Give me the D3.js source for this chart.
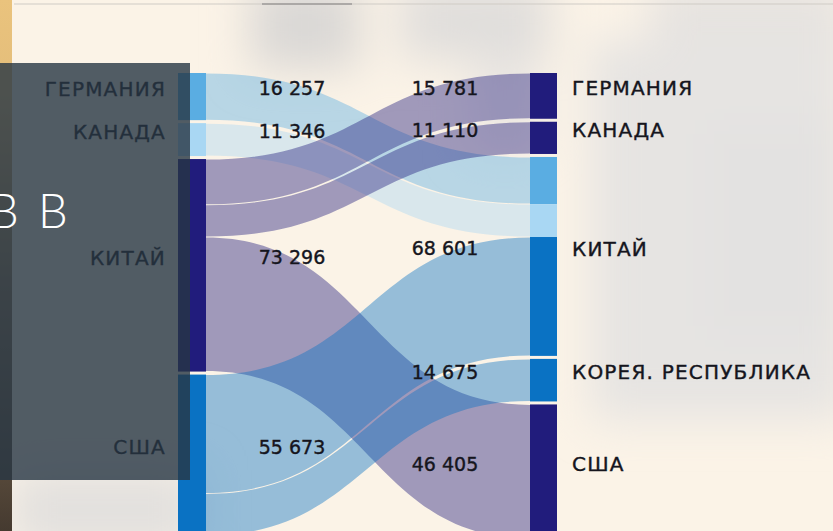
<!DOCTYPE html>
<html>
<head>
<meta charset="utf-8">
<script src="https://cdn.jsdelivr.net/npm/d3@7"></script>
<style>
  html, body { margin: 0; padding: 0; background: #fbf3e7; }
  svg { display: block; }
  .lbl { font-family: "DejaVu Sans", sans-serif; fill: #15151d; stroke: #15151d; stroke-width: 0.4px; }
</style>
</head>
<body>
<svg id="chart" width="833" height="531"></svg>
<script>
// * nodes on the left (exporters) and right (importers)
const sources = ["ГЕРМАНИЯ", "КАНАДА", "КИТАЙ", "США"];
const sourceValues = [16257, 11346, 73296, 55673];
const sourceColors = ["#5aade2", "#a9d7f3", "#211c7c", "#0a72c3"];

const targets = ["ГЕРМАНИЯ", "КАНАДА", "КИТАЙ", "КОРЕЯ. РЕСПУБЛИКА", "США"];
const targetValues = [15781, 11110, 68601, 14675, 46405];

// * flows: source index -> target index
const flowFrom = [0, 1, 2, 2, 2, 3, 3];
const flowTo = [2, 2, 0, 1, 4, 2, 3];
const flowValues = [16257, 11346, 15781, 11110, 46405, 40998, 14675];

const width = 833;
const height = 531;
const margin = { top: 73 };
const nodeGap = 3;
const leftX = [178, 206];
const rightX = [530, 557];

const svg = d3.select("#chart");
const defs = svg.append("defs");

// * blurred photo-like background
defs.append("filter").attr("id", "blur").attr("x", "-50%").attr("y", "-50%").attr("width", "200%").attr("height", "200%")
  .append("feGaussianBlur").attr("stdDeviation", 22);

const bgLayer = svg.append("g");
bgLayer.append("rect").attr("width", width).attr("height", height).attr("fill", "#fbf3e7");
const blobs = bgLayer.append("g").attr("filter", "url(#blur)");
[
  [250, -20, 110, 90, "#dad8d6"],
  [400, -20, 150, 80, "#e0dedc"],
  [650, -20, 200, 70, "#e6e3e0"],
  [590, 40, 260, 380, "#e6e4e2"],
  [700, 120, 150, 220, "#e3e2e1"],
  [10, 470, 190, 80, "#e2e0de"],
  [470, 60, 70, 90, "#ebe7e3"],
].forEach(([x, y, w, h, c]) => {
  blobs.append("rect").attr("x", x).attr("y", y).attr("width", w).attr("height", h).attr("fill", c);
});

// left golden strip of the photo
const stripGrad = defs.append("linearGradient").attr("id", "strip").attr("x1", 0).attr("y1", 0).attr("x2", 0).attr("y2", 1);
stripGrad.append("stop").attr("offset", "0%").attr("stop-color", "#eac37d");
stripGrad.append("stop").attr("offset", "18%").attr("stop-color", "#e3bd7a");
stripGrad.append("stop").attr("offset", "55%").attr("stop-color", "#8c7658");
stripGrad.append("stop").attr("offset", "100%").attr("stop-color", "#453a30");
bgLayer.append("rect").attr("x", 0).attr("y", 0).attr("width", 12).attr("height", height).attr("fill", "url(#strip)");
bgLayer.append("line").attr("x1", 14).attr("x2", width).attr("y1", 4).attr("y2", 4)
  .attr("stroke", "#cfcbc6").attr("stroke-width", 1.2);
bgLayer.append("line").attr("x1", 262).attr("x2", 352).attr("y1", 4).attr("y2", 4)
  .attr("stroke", "#9c9a98").attr("stroke-width", 1.5);

// * value -> pixel scale shared by both columns
const total = d3.sum(sourceValues);
const yScale = d3.scaleLinear().domain([0, total]).range([0, 454]);

const stackNodes = (values) => {
  let y = margin.top;
  return values.map((v) => {
    const node = { y0: y, y1: y + yScale(v), value: v };
    y = node.y1 + nodeGap;
    return node;
  });
};
const leftNodes = stackNodes(sourceValues);
const rightNodes = stackNodes(targetValues);

// * link positions, ordered by target at the source and by source at the target
const links = flowValues.map((v, i) => ({ s: flowFrom[i], t: flowTo[i], value: v, w: yScale(v) }));
const srcOffset = leftNodes.map((n) => n.y0);
[...links].sort((a, b) => a.s - b.s || a.t - b.t).forEach((l) => {
  l.sy0 = srcOffset[l.s];
  srcOffset[l.s] += l.w;
});
const tgtOffset = rightNodes.map((n) => n.y0);
[...links].sort((a, b) => a.t - b.t || a.s - b.s).forEach((l) => {
  l.ty0 = tgtOffset[l.t];
  tgtOffset[l.t] += l.w;
});

// filled band with constant vertical thickness
const band = (l) => {
  const x0 = leftX[1];
  const x1 = rightX[0];
  const xm = (x0 + x1) / 2;
  const s0 = l.sy0 + 0.5;
  const s1 = l.sy0 + l.w - 0.5;
  const t0 = l.ty0 + 0.5;
  const t1 = l.ty0 + l.w - 0.5;
  const p = d3.path();
  p.moveTo(x0, s0);
  p.bezierCurveTo(xm, s0, xm, t0, x1, t0);
  p.lineTo(x1, t1);
  p.bezierCurveTo(xm, t1, xm, s1, x0, s1);
  p.closePath();
  return p.toString();
};

svg.append("g")
  .selectAll("path")
  .data(links)
  .enter()
  .append("path")
  .attr("d", band)
  .style("fill", (l) => sourceColors[l.s])
  .style("fill-opacity", 0.42);

// * left nodes
svg.append("g")
  .selectAll("rect")
  .data(leftNodes)
  .enter()
  .append("rect")
  .attr("x", leftX[0])
  .attr("y", (n) => n.y0)
  .attr("width", leftX[1] - leftX[0])
  .attr("height", (n) => n.y1 - n.y0)
  .style("fill", (n, i) => sourceColors[i]);

// * right nodes: drawn as segments coloured by the incoming source
svg.append("g")
  .selectAll("rect")
  .data(links)
  .enter()
  .append("rect")
  .attr("x", rightX[0])
  .attr("y", (l) => l.ty0)
  .attr("width", rightX[1] - rightX[0])
  .attr("height", (l) => l.w)
  .style("fill", (l) => sourceColors[l.s]);

const labelShift = -8;
const mid = (n) => (n.y0 + n.y1) / 2 + labelShift;

// * node names
svg.append("g")
  .selectAll("text")
  .data(leftNodes)
  .enter()
  .append("text")
  .attr("class", "lbl")
  .attr("x", 166)
  .attr("y", mid)
  .attr("dy", "0.36em")
  .attr("text-anchor", "end")
  .style("font-size", "20px")
  .style("letter-spacing", "1.2px")
  .text((n, i) => sources[i]);

svg.append("g")
  .selectAll("text")
  .data(rightNodes)
  .enter()
  .append("text")
  .attr("class", "lbl")
  .attr("x", 572)
  .attr("y", mid)
  .attr("dy", "0.36em")
  .style("font-size", "20px")
  .style("letter-spacing", "1.2px")
  .text((n, i) => targets[i]);

// * values
const fmt = (v) => d3.format(",")(v).replace(",", " ");
svg.append("g")
  .selectAll("text")
  .data(leftNodes)
  .enter()
  .append("text")
  .attr("class", "lbl")
  .attr("x", 292)
  .attr("y", mid)
  .attr("dy", "0.36em")
  .attr("text-anchor", "middle")
  .style("font-size", "19px")
  .text((n) => fmt(n.value));

svg.append("g")
  .selectAll("text")
  .data(rightNodes)
  .enter()
  .append("text")
  .attr("class", "lbl")
  .attr("x", 445)
  .attr("y", mid)
  .attr("dy", "0.36em")
  .attr("text-anchor", "middle")
  .style("font-size", "19px")
  .text((n) => fmt(n.value));

// * dark caption panel that covers the left labels
svg.append("rect")
  .attr("x", 0).attr("y", 63).attr("width", 190).attr("height", 417)
  .style("fill", "rgb(39,54,68)").style("fill-opacity", 0.8);
const caption = svg.append("text")
  .attr("y", 228)
  .style("font-family", "Lato, 'Open Sans', sans-serif")
  .style("font-weight", 300)
  .style("font-size", "47px")
  .style("fill", "#ffffff");
caption.append("tspan").attr("x", -11).text("В");
caption.append("tspan").attr("x", 38).text("В");
</script>
</body>
</html>
